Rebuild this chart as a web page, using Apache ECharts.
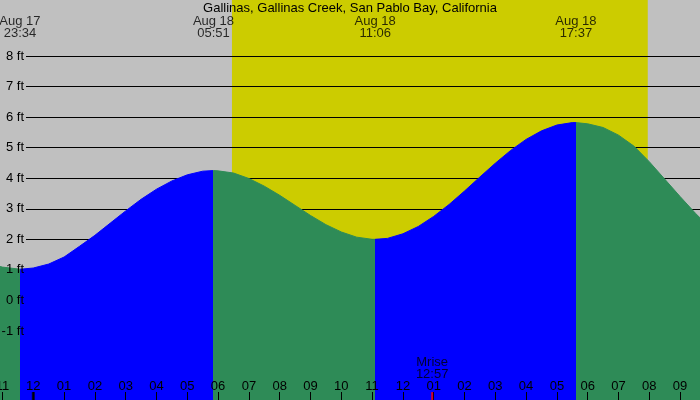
<!DOCTYPE html>
<html lang="en">
<head>
  <meta charset="UTF-8">
  <title>Gallinas tide</title>
  <script src="https://cdn.jsdelivr.net/npm/echarts@6.0.0/dist/echarts.min.js"></script>
  <style>
    html, body { margin: 0; padding: 0; }
    #chart { width: 700px; height: 400px; }
  </style>
</head>
<body>
<div id="chart"></div>
<script>
  // hours since midnight Aug 18, heights in ft (every half hour)
  const tideHours = [-1.08, -1, -0.43, 0, 0.5, 1, 1.5, 2, 2.5, 3, 3.5, 4, 4.5, 5, 5.5, 5.85,
                     6, 6.5, 7, 7.5, 8, 8.5, 9, 9.5, 10, 10.5, 11, 11.1,
                     11.5, 12, 12.5, 13, 13.5, 14, 14.5, 15, 15.5, 16, 16.5, 17, 17.5, 17.62,
                     18, 18.5, 19, 19.5, 20, 20.5, 21, 21.5, 21.65]
  const tideHeights = [1.12, 1.1, 1.03, 1.07, 1.2, 1.43, 1.78, 2.14, 2.54, 2.94, 3.32, 3.65, 3.92, 4.12, 4.24, 4.26,
                       4.25, 4.18, 4.0, 3.75, 3.45, 3.12, 2.79, 2.49, 2.25, 2.08, 2.01, 2.01,
                       2.04, 2.19, 2.43, 2.76, 3.15, 3.59, 4.05, 4.5, 4.92, 5.28, 5.56, 5.75, 5.83, 5.83,
                       5.79, 5.67, 5.42, 5.06, 4.55, 3.98, 3.41, 2.86, 2.71]

  const extremeHours  = [-0.433, 5.85, 11.1, 17.617]
  const extremeLabels = ['Aug 17\n23:34', 'Aug 18\n05:51', 'Aug 18\n11:06', 'Aug 18\n17:37']

  const sunrise = 6.45
  const sunset  = 19.95
  const moonrise = 12.95
  const moonriseLabel = 'Mrise\n12:57'

  const hourTicks  = [-1, 0, 1, 2, 3, 4, 5, 6, 7, 8, 9, 10, 11, 12, 13, 14, 15, 16, 17, 18, 19, 20, 21]
  const hourLabels = ['11', '12', '01', '02', '03', '04', '05', '06', '07', '08', '09', '10',
                      '11', '12', '01', '02', '03', '04', '05', '06', '07', '08', '09']

  const BLUE = '#0000ff'
  const GREEN = '#2e8b57'
  const FONT = 'Liberation Sans'

  // rising water blue, falling water green
  const pieces = [{ lt: extremeHours[0], color: GREEN }]
  for (let i = 0; i < extremeHours.length - 1; i++) {
    pieces.push({ gte: extremeHours[i], lt: extremeHours[i + 1], color: i % 2 === 0 ? BLUE : GREEN })
  }
  pieces.push({ gte: extremeHours[extremeHours.length - 1], color: GREEN })

  const tideData = tideHours.map((h, i) => [h, tideHeights[i]])
  const extremeData = extremeHours.map((h, i) => ({ value: [h, 8.95], name: extremeLabels[i] }))

  const myChart = echarts.init(document.getElementById('chart'))
  const option = {
    animation: false,
    backgroundColor: '#c0c0c0',
    textStyle: { fontFamily: FONT },
    title: {
      text: 'Gallinas, Gallinas Creek, San Pablo Bay, California',
      left: 'center', top: 2, padding: 0,
      textStyle: { fontFamily: FONT, fontSize: 13, fontWeight: 'normal', color: '#000' }
    },
    grid: [
      { left: 0, right: 0, top: 0, bottom: 0, outerBoundsMode: 'none' },
      { left: 26, right: 0, top: 56, bottom: 69, outerBoundsMode: 'none' },
      { left: 26, right: 0, top: 56, bottom: 69, outerBoundsMode: 'none' }
    ],
    xAxis: [
      {
        gridIndex: 0, type: 'value', min: -1.081, max: 21.646, z: 5,
        splitLine: { show: false },
        axisLine: { show: false, onZero: false },
        axisTick: { show: true, inside: true, length: 8, customValues: hourTicks, lineStyle: { color: '#000', width: 1 } },
        axisLabel: {
          show: true, inside: true, margin: 7, customValues: hourTicks,
          color: '#000', fontSize: 13, fontFamily: FONT,
          formatter: v => hourLabels[hourTicks.indexOf(Math.round(v))]
        }
      },
      { gridIndex: 1, type: 'value', min: 0, max: 1, show: false },
      { gridIndex: 2, type: 'value', min: 0, max: 1, show: false }
    ],
    yAxis: [
      { gridIndex: 0, type: 'value', min: -3.25, max: 9.843, show: false },
      {
        gridIndex: 1, type: 'value', min: -1, max: 8, interval: 1, z: 1,
        axisLine: { show: false }, axisTick: { show: false }, axisLabel: { show: false },
        splitLine: { show: true, lineStyle: { color: '#000', width: 1 } }
      },
      {
        gridIndex: 2, type: 'value', min: -1, max: 8, interval: 1, z: 5,
        axisLine: { show: false }, axisTick: { show: false }, splitLine: { show: false },
        axisLabel: { show: true, margin: 2, color: '#000', fontSize: 13, fontFamily: FONT, formatter: '{value} ft' }
      }
    ],
    visualMap: {
      type: 'piecewise', show: false, seriesIndex: 1, dimension: 0, pieces: pieces
    },
    series: [
      {
        name: 'daylight', type: 'line', xAxisIndex: 0, yAxisIndex: 0, data: [], z: 0,
        markArea: {
          silent: true, z: 0,
          itemStyle: { color: '#cccc00', opacity: 1 },
          data: [[{ xAxis: sunrise }, { xAxis: sunset }]]
        }
      },
      {
        name: 'tide', type: 'line', xAxisIndex: 0, yAxisIndex: 0, z: 2,
        data: tideData, smooth: false, symbol: 'none',
        lineStyle: { width: 1 },
        areaStyle: { opacity: 1, origin: 'start' }
      },
      {
        name: 'extremes', type: 'scatter', xAxisIndex: 0, yAxisIndex: 0, z: 5,
        symbolSize: 0, data: extremeData,
        label: {
          show: true, position: 'inside', formatter: p => p.name,
          color: '#000', fontSize: 13, lineHeight: 12, fontFamily: FONT
        }
      },
      {
        name: 'moonrise', type: 'scatter', xAxisIndex: 0, yAxisIndex: 0, z: 5,
        symbolSize: 0, data: [{ value: [moonrise, -2.23], name: moonriseLabel }],
        label: {
          show: true, position: 'inside', formatter: p => p.name,
          color: '#000', fontSize: 13, lineHeight: 12, fontFamily: FONT
        }
      },
      {
        name: 'marks', type: 'scatter', xAxisIndex: 0, yAxisIndex: 0, z: 6,
        symbol: 'rect',
        data: [
          { value: [0, -3.12], symbolSize: [3, 8], itemStyle: { color: '#000' } },
          { value: [moonrise, -3.12], symbolSize: [2, 8], itemStyle: { color: '#ff0000' } }
        ]
      }
    ]
  }
  myChart.setOption(option)
</script>
</body>
</html>
